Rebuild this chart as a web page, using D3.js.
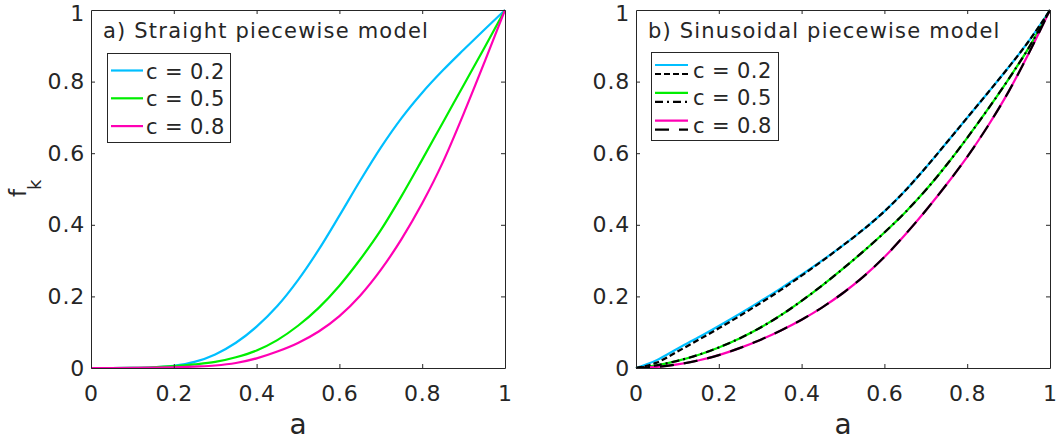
<!DOCTYPE html>
<html><head><meta charset="utf-8">
<script src="https://cdn.jsdelivr.net/npm/d3@7"></script>
<style>
body{margin:0;background:#fff}
svg{display:block}
text{font-family:"DejaVu Sans",sans-serif;fill:#262626}
</style>
</head><body>
<svg id="chart" width="1060" height="441"></svg>
<script>
// ---------------- data ----------------
const aValues = [0,0.05,0.1,0.15,0.2,0.25,0.3,0.35,0.4,0.45,0.5,0.55,0.6,0.65,0.7,0.75,0.8,0.85,0.9,0.95,1];
const cLabels = ["c = 0.2","c = 0.5","c = 0.8"];
const xTickValues = [0,0.2,0.4,0.6,0.8,1];
const yTickValues = [0,0.2,0.4,0.6,0.8,1];
const panelTitles = ["a) Straight piecewise model","b) Sinusoidal piecewise model"];

// a) straight piecewise model
const straightC02 = [0,0,0.0005,0.002,0.006,0.017,0.038,0.0705,0.1155,0.173,0.2455,0.3305,0.4255,0.523,0.6155,0.698,0.769,0.8315,0.889,0.945,1.0];
const straightC05 = [0,0,0.0005,0.002,0.005,0.010,0.017,0.030,0.049,0.078,0.118,0.168,0.230,0.303,0.385,0.480,0.582,0.686,0.790,0.894,1.0];
const straightC08 = [0,0,0.0003,0.001,0.002,0.004,0.007,0.014,0.027,0.046,0.070,0.102,0.145,0.202,0.274,0.360,0.460,0.575,0.710,0.853,1.0];

// b) sinusoidal piecewise model (coloured solid)
const sinC02 = [0,0.022,0.054,0.085,0.1175,0.151,0.186,0.2225,0.2605,0.3005,0.3425,0.3875,0.4375,0.495,0.560,0.629,0.699,0.769,0.840,0.915,1.0];
const sinC05 = [0,0.0075,0.020,0.0365,0.0575,0.0825,0.1125,0.1475,0.1875,0.231,0.2775,0.3265,0.3785,0.4345,0.497,0.567,0.643,0.723,0.807,0.897,1.0];
const sinC08 = [0,0.003,0.010,0.021,0.036,0.0555,0.0785,0.105,0.135,0.1695,0.2095,0.256,0.310,0.3725,0.440,0.5125,0.590,0.676,0.772,0.882,1.0];
// b) black overlay curves
const approxC02 = [0,0.015,0.046,0.078,0.111,0.145,0.181,0.218,0.258,0.299,0.3425,0.3875,0.4375,0.495,0.560,0.629,0.699,0.769,0.840,0.915,1.0];
const approxC05 = [0,0.0075,0.020,0.0365,0.0575,0.0825,0.1125,0.1475,0.1875,0.231,0.2775,0.3265,0.3785,0.4345,0.497,0.567,0.643,0.723,0.807,0.897,1.0];
const approxC08 = [0,0.003,0.010,0.021,0.036,0.0555,0.0785,0.105,0.135,0.1695,0.2095,0.256,0.310,0.3725,0.440,0.5125,0.590,0.676,0.772,0.882,1.0];

// ---------------- style ----------------
const COLORS = ["#00BFFF","#00EE00","#FF00B4"];
const DASHES = ["6,3","8,4,2,4","14,10"];
const AX = "#262626";

const svg = d3.select("#chart");
const Y0 = 368, Y1 = 10;
const panels = [
  {x0:91, x1:505, series:[straightC02,straightC05,straightC08], overlays:null,
   title:{x:104, y:37.5}, legend:{x:107,y:53,w:123,h:89}},
  {x0:636, x1:1050, series:[sinC02,sinC05,sinC08], overlays:[approxC02,approxC05,approxC08],
   title:{x:649, y:37.5}, legend:{x:651,y:52,w:127,h:88}}
];

panels.forEach((p, pi) => {
  const x = d3.scaleLinear().domain([0,1]).range([p.x0,p.x1]);
  const y = d3.scaleLinear().domain([0,1]).range([Y0,Y1]);
  const g = svg.append("g");

  g.append("rect").attr("x",p.x0).attr("y",Y1).attr("width",p.x1-p.x0).attr("height",Y0-Y1).attr("fill","#fff");

  // curves
  const line = d3.line().x((d,i)=>x(aValues[i])).y(d=>y(d)).curve(d3.curveMonotoneX);
  p.series.forEach((s,i)=>{
    g.append("path").attr("d",line(s)).attr("fill","none").attr("stroke",COLORS[i]).attr("stroke-width",2.2);
  });
  if (p.overlays) {
    p.overlays.forEach((s,i)=>{
      g.append("path").attr("d",line(s)).attr("fill","none").attr("stroke","#000")
        .attr("stroke-width",2.2).attr("stroke-dasharray",DASHES[i]);
    });
  }

  // axes
  const fmt = d3.format("~g");
  const bottom = g.append("g").attr("transform",`translate(0,${Y0})`)
    .call(d3.axisBottom(x).tickValues(xTickValues).tickFormat(fmt).tickSizeInner(-4).tickSizeOuter(0).tickPadding(17));
  const top = g.append("g").attr("transform",`translate(0,${Y1})`)
    .call(d3.axisTop(x).tickValues(xTickValues).tickFormat("").tickSizeInner(-4).tickSizeOuter(0));
  const left = g.append("g").attr("transform",`translate(${p.x0},0)`)
    .call(d3.axisLeft(y).tickValues(yTickValues).tickFormat(fmt).tickSizeInner(-4).tickSizeOuter(0).tickPadding(6));
  const right = g.append("g").attr("transform",`translate(${p.x1},0)`)
    .call(d3.axisRight(y).tickValues(yTickValues).tickFormat("").tickSizeInner(-4).tickSizeOuter(0));
  [bottom,top,left,right].forEach(a=>{
    a.attr("font-family",null).attr("font-size",null);
    a.selectAll("path").attr("stroke",AX).attr("stroke-width",1);
    a.selectAll("line").attr("stroke",AX).attr("stroke-width",1);
    a.selectAll("text").style("font-size","22px").style("letter-spacing","0.8px").attr("fill",AX);
    a.selectAll(".tick line").filter(d=>d===0||d===1).remove();
  });
  // keep the topmost y label fully inside the page
  left.selectAll(".tick text").filter(d=>d===1).attr("y",3.5);

  // x label
  g.append("text").attr("x",(p.x0+p.x1)/2).attr("y",434).attr("text-anchor","middle")
    .style("font-size","28px").text("a");

  // title
  g.append("text").attr("x",p.title.x-1).attr("y",p.title.y)
    .style("font-size","21px").style("letter-spacing","1.2px").text(panelTitles[pi]);

  // legend
  const L = p.legend;
  const lg = g.append("g");
  lg.append("rect").attr("x",L.x+0.5).attr("y",L.y+0.5).attr("width",L.w).attr("height",L.h)
    .attr("fill","#fff").attr("stroke",AX).attr("stroke-width",1);
  cLabels.forEach((lab,i)=>{
    const cy = L.y + 17.5 + i*27.8;
    if (!p.overlays) {
      lg.append("line").attr("x1",L.x+4).attr("x2",L.x+36).attr("y1",cy).attr("y2",cy)
        .attr("stroke",COLORS[i]).attr("stroke-width",2.2);
      lg.append("text").attr("x",L.x+39).attr("y",cy+8).style("font-size","21px").style("letter-spacing","0.4px").text(lab);
    } else {
      lg.append("line").attr("x1",L.x+4).attr("x2",L.x+37).attr("y1",cy-4.5).attr("y2",cy-4.5)
        .attr("stroke",COLORS[i]).attr("stroke-width",2.2);
      lg.append("line").attr("x1",L.x+4).attr("x2",L.x+37).attr("y1",cy+4.5).attr("y2",cy+4.5)
        .attr("stroke","#000").attr("stroke-width",2.2).attr("stroke-dasharray",DASHES[i]);
      lg.append("text").attr("x",L.x+42).attr("y",cy+8).style("font-size","21px").style("letter-spacing","0.4px").text(lab);
    }
  });
});

// y label f_k (left panel only)
svg.append("text").attr("transform","translate(26,197) rotate(-90)").style("font-size","23px").text("f");
svg.append("text").attr("transform","translate(41,190) rotate(-90)").style("font-size","18px").text("k");
</script>
</body></html>
